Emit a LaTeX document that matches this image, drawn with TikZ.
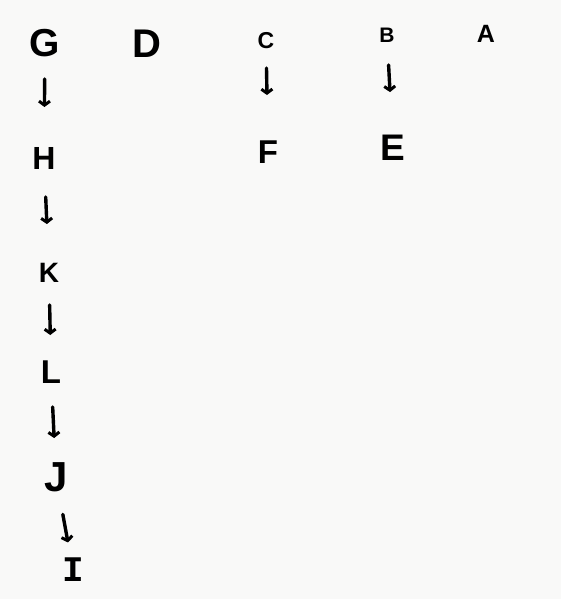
\documentclass[tikz,border=0pt]{standalone}
\usepackage{fontspec}
\setmainfont{Liberation Sans}
\newfontfamily\barfont{Liberation Mono}
\usetikzlibrary{arrows.meta}
\definecolor{bg}{HTML}{F9F9F8}
\tikzset{
  letter/.style={inner sep=0pt, text depth=0pt, anchor=center, font=\bfseries},
  arr/.style={draw=black, line width=3.4pt, line cap=round, -{Straight Barb[length=4pt,width=11pt,line width=3pt]}}
}
\newcommand{\fs}[1]{\fontsize{#1}{#1}\selectfont}
\begin{document}
\begin{tikzpicture}[x=1pt,y=-1pt]
\fill[bg] (0,0) rectangle (561,599);
\useasboundingbox (0,0) rectangle (561,599);
\node[letter] (G) at (45,43) {\fs{39}G};
\node[letter] (D) at (147,44) {\fs{40}D};
\node[letter] (C) at (266,40) {\fs{23}C};
\node[letter] (B) at (387,35) {\fs{21}B};
\node[letter] (A) at (486,34) {\fs{25}A};
\node[letter] (H) at (44,158) {\fs{32}H};
\node[letter] (F) at (268,152) {\fs{33}F};
\node[letter] (E) at (393,148) {\fs{37}E};
\node[letter] (K) at (49,273) {\fs{28}K};
\node[letter] (L) at (51,372) {\fs{33}L};
\node[letter] (J) at (56,477) {\fs{42}J};
\node[letter] (I) at (73,570) {\barfont\fs{36}I};
\draw[arr, shorten <=36pt, shorten >=51pt] (G.center) -- (H.center);
\draw[arr, shorten <=39pt, shorten >=49pt] (H.center) -- (K.center);
\draw[arr, shorten <=32pt, shorten >=37pt] (K.center) -- (L.center);
\draw[arr, shorten <=35pt, shorten >=39pt] (L.center) -- (J.center);
\draw[arr, shorten <=38pt, shorten >=28pt] (J.center) -- (I.center);
\draw[arr, shorten <=28pt, shorten >=57pt] (C.center) -- (F.center);
\draw[arr, shorten <=30pt, shorten >=56pt] (B.center) -- (E.center);
\end{tikzpicture}
\end{document}
